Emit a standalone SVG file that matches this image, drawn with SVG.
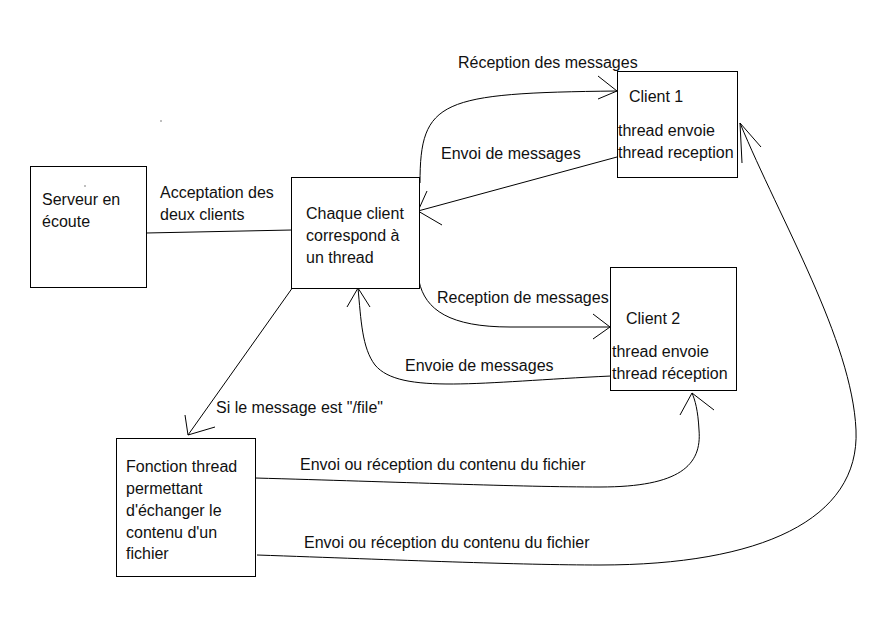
<svg xmlns="http://www.w3.org/2000/svg" width="888" height="640" viewBox="0 0 888 640">
<style>
.box{fill:#fff;stroke:#000;stroke-width:1}
.t{font-family:"Liberation Sans",Arial,sans-serif;font-size:16px;fill:#111}
.c{fill:none;stroke:#000;stroke-width:1}
</style>
<rect width="888" height="640" fill="#fff"/>
<g id="connectors">
  <path class="c" d="M146,233 L292,230"/>
  <path class="c" d="M420,183 C420,100 440,93 617,91"/>
  <path class="c" d="M598,76 L617,91 L598,99"/>
  <path class="c" d="M617,157 L418,211"/>
  <path class="c" d="M427,191 L418,211 L442,225"/>
  <path class="c" d="M419,281 C425,310 450,327 510,327 L610,327"/>
  <path class="c" d="M593,314 L610,327 L593,339"/>
  <path class="c" d="M611,376 C480,382 400,395 375,365 C362,348 361,320 358,288"/>
  <path class="c" d="M347,307 L358,288 L370,307"/>
  <path class="c" d="M293,287 L188,435"/>
  <path class="c" d="M185,415 L188,435 L215,427"/>
  <path class="c" d="M255,478 C400,482 520,487 600,487 C680,487 702,465 699,430 C698,410 695,400 692,393"/>
  <path class="c" d="M680,415 L692,393 L714,410"/>
  <path class="c" d="M257,555 C400,560 520,565 600,565 C760,565 860,520 856,430 C852,340 780,220 740,123"/>
  <path class="c" d="M761,147 L740,123 L742,163"/>
  <text class="t" x="160" y="198">Acceptation des</text>
  <text class="t" x="160" y="220">deux clients</text>
  <text class="t" x="458" y="68">Réception des messages</text>
  <text class="t" x="441" y="159">Envoi de messages</text>
  <text class="t" x="437" y="303">Reception de messages</text>
  <text class="t" x="405" y="371">Envoie de messages</text>
  <text class="t" x="216" y="413">Si le message est "/file"</text>
  <text class="t" x="300" y="470">Envoi ou réception du contenu du fichier</text>
  <text class="t" x="304" y="548">Envoi ou réception du contenu du fichier</text>
</g>
<rect x="160.5" y="120.5" width="1" height="1" fill="#000"/>
<g id="serveur">
  <rect class="box" x="30.5" y="166.5" width="116" height="121"/>
  <rect x="84.5" y="185.5" width="1" height="1" fill="#000"/>
  <text class="t" x="42" y="205">Serveur en</text>
  <text class="t" x="42" y="227">écoute</text>
</g>
<g id="chaque">
  <rect class="box" x="291.5" y="177.5" width="128" height="111"/>
  <text class="t" x="306" y="219">Chaque client</text>
  <text class="t" x="306" y="241">correspond à</text>
  <text class="t" x="306" y="263">un thread</text>
</g>
<g id="client1">
  <rect class="box" x="617.5" y="71.5" width="120" height="106"/>
  <text class="t" x="629" y="102">Client 1</text>
  <text class="t" x="618" y="136">thread envoie</text>
  <text class="t" x="618" y="158">thread reception</text>
</g>
<g id="client2">
  <rect class="box" x="610.5" y="267.5" width="126" height="123"/>
  <text class="t" x="626" y="324">Client 2</text>
  <text class="t" x="612" y="357">thread envoie</text>
  <text class="t" x="612" y="379">thread réception</text>
</g>
<g id="fonction">
  <rect class="box" x="116.5" y="438.5" width="139" height="138"/>
  <text class="t" x="126" y="472">Fonction thread</text>
  <text class="t" x="126" y="494">permettant</text>
  <text class="t" x="126" y="516">d'échanger le</text>
  <text class="t" x="126" y="538">contenu d'un</text>
  <text class="t" x="126" y="559">fichier</text>
</g>
</svg>
